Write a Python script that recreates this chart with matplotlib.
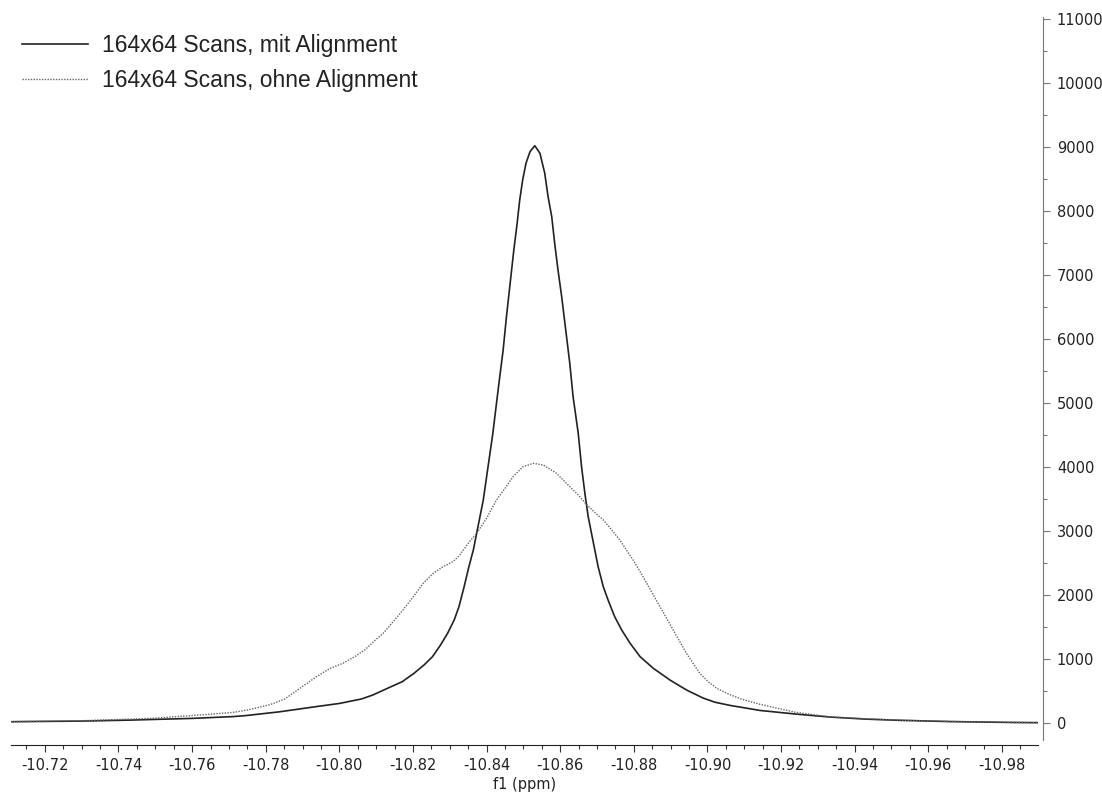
import matplotlib.pyplot as plt
from matplotlib.ticker import MultipleLocator, FormatStrFormatter

plt.rcParams["font.family"] = "DejaVu Sans"

# spectrum with alignment
ppm_mit = [-10.7108, -10.7303, -10.7431, -10.7602, -10.7711, -10.7745, -10.7838,
           -10.7936, -10.8000, -10.8060, -10.8090, -10.8121, -10.8171, -10.8203,
           -10.8230, -10.8253, -10.8275, -10.8294, -10.8312, -10.8325, -10.8339,
           -10.8352, -10.8364, -10.8373, -10.8382, -10.8391, -10.8404, -10.8417,
           -10.8427, -10.8436, -10.8445, -10.8454, -10.8465, -10.8474, -10.8483,
           -10.8490, -10.8498, -10.8507, -10.8518, -10.8531, -10.8545, -10.8558,
           -10.8567, -10.8577, -10.8585, -10.8594, -10.8604, -10.8615, -10.8626,
           -10.8635, -10.8649, -10.8658, -10.8667, -10.8676, -10.8685, -10.8694,
           -10.8703, -10.8717, -10.8730, -10.8748, -10.8767, -10.8790, -10.8817,
           -10.8853, -10.8898, -10.8943, -10.8988, -10.9020, -10.9061, -10.9144,
           -10.9239, -10.9334, -10.9432, -10.9525, -10.9659, -10.9830, -10.9898]
int_mit = [20, 30, 45, 72, 100, 115, 175,
           255, 305, 375, 435, 516, 646, 777,
           906, 1036, 1219, 1401, 1609, 1818, 2130,
           2443, 2703, 2964, 3224, 3484, 4005, 4526,
           5000, 5420, 5828, 6349, 6922, 7390, 7807,
           8172, 8484, 8745, 8927, 9020, 8901, 8589,
           8224, 7911, 7495, 7078, 6661, 6141, 5620,
           5098, 4526, 4005, 3589, 3224, 2964, 2703,
           2443, 2130, 1922, 1661, 1453, 1245, 1036,
           854, 672, 516, 390, 325, 275, 195,
           140, 92, 60, 41, 22, 8, 5]

# spectrum without alignment
ppm_ohne = [-10.7108, -10.7303, -10.7493, -10.7621, -10.7711, -10.7752, -10.7811,
            -10.7852, -10.7893, -10.7938, -10.7975, -10.8010, -10.8042, -10.8069,
            -10.8097, -10.8119, -10.8146, -10.8173, -10.8201, -10.8228, -10.8255,
            -10.8282, -10.8309, -10.8327, -10.8350, -10.8373, -10.8400, -10.8427,
            -10.8450, -10.8472, -10.8499, -10.8527, -10.8554, -10.8590, -10.8599,
            -10.8626, -10.8649, -10.8672, -10.8694, -10.8717, -10.8740, -10.8762,
            -10.8780, -10.8798, -10.8817, -10.8835, -10.8853, -10.8871, -10.8889,
            -10.8907, -10.8925, -10.8943, -10.8961, -10.8979, -10.9002, -10.9025,
            -10.9057, -10.9091, -10.9144, -10.9239, -10.9334, -10.9432, -10.9525,
            -10.9659, -10.9830, -10.9898]
int_ohne = [20, 36, 73, 125, 165, 205, 285,
            375, 542, 724, 854, 933, 1036, 1141,
            1292, 1401, 1583, 1766, 1974, 2183, 2339,
            2443, 2521, 2625, 2807, 2964, 3198, 3484,
            3667, 3849, 4005, 4057, 4031, 3901, 3849,
            3693, 3563, 3410, 3290, 3172, 3016, 2859,
            2703, 2547, 2365, 2183, 2000, 1818, 1636,
            1453, 1270, 1089, 933, 777, 646, 542,
            453, 375, 290, 167, 95, 65, 45,
            24, 10, 6]

labels = ["164x64 Scans, mit Alignment", "164x64 Scans, ohne Alignment"]

W, H = 1102, 794
fig = plt.figure(figsize=(W / 100, H / 100), dpi=100)
ax = fig.add_axes([11 / W, (H - 745) / H, (1038 - 11) / W, (745 - 17) / H])

ax.plot(ppm_mit, int_mit, color="#222222", lw=1.2, label=labels[0])
ax.plot(ppm_ohne, int_ohne, color="#666666", lw=1.0, ls=(0, (1, 1)), label=labels[1])

ax.set_xlim(-10.7108, -10.9898)
ax.set_ylim(-344, 11031)

for s in ["left", "top"]:
    ax.spines[s].set_visible(False)
ax.spines["right"].set_position(("axes", 1 + 5 / 1027))
ax.spines["right"].set_bounds(-265, 11031)
ax.spines["right"].set_color("#777777")
ax.spines["bottom"].set_color("#222222")

ax.yaxis.tick_right()
ax.xaxis.set_major_locator(MultipleLocator(0.02))
ax.xaxis.set_minor_locator(MultipleLocator(0.005))
ax.xaxis.set_major_formatter(FormatStrFormatter("%.2f"))
ax.yaxis.set_major_locator(MultipleLocator(1000))
ax.yaxis.set_minor_locator(MultipleLocator(500))

ax.tick_params(axis="x", which="major", length=5, width=0.8, color="#333333",
               labelsize=10.5, pad=4, labelcolor="#222222")
ax.tick_params(axis="x", which="minor", length=3, width=0.8, color="#333333")
ax.tick_params(axis="y", which="major", length=5, width=0.8, color="#777777",
               labelsize=10.5, pad=5, labelcolor="#222222")
ax.tick_params(axis="y", which="minor", length=3, width=0.8, color="#777777")

ax.set_xlabel("f1 (ppm)", fontsize=10.5, color="#222222", labelpad=3)

leg = ax.legend(loc="upper left", bbox_to_anchor=(22 / W, (H - 34) / H),
                bbox_transform=fig.transFigure, frameon=False, borderpad=0,
                borderaxespad=0, handlelength=2.9, handletextpad=0.6,
                labelspacing=0.52, prop={"family": "Liberation Sans", "size": 16.5})
for t in leg.get_texts():
    t.set_color("#222222")

fig.savefig("out.png", dpi=100)
